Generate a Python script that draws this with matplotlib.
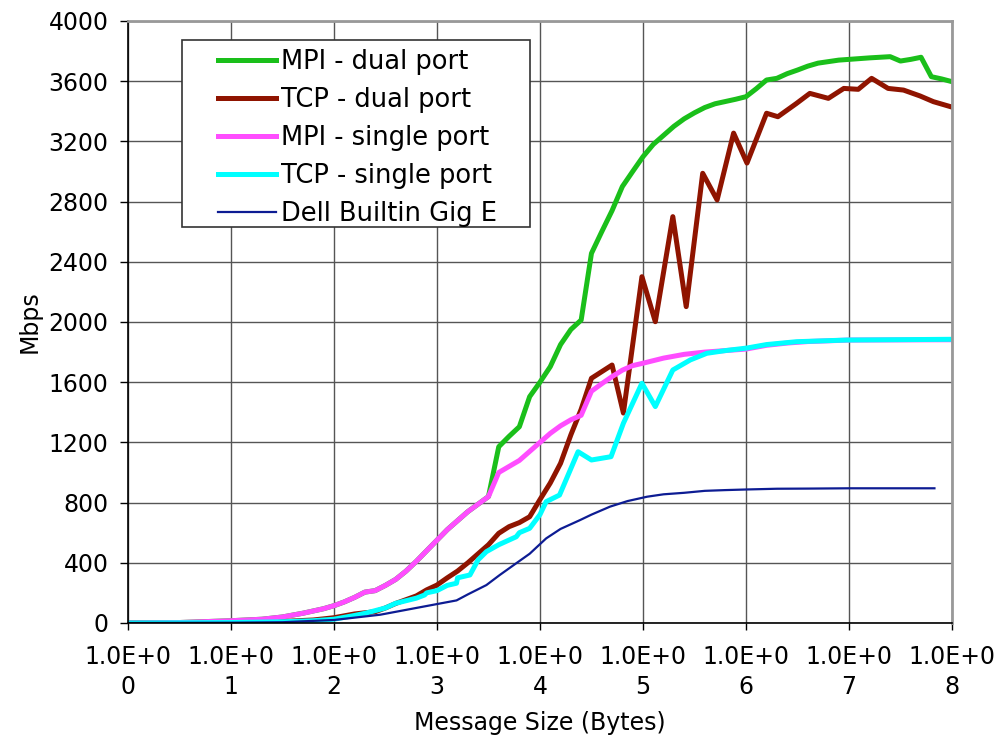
import matplotlib

matplotlib.use("Agg")
import matplotlib.pyplot as plt
from matplotlib.patches import Rectangle

# MPI - dual port
mpi_dual_x = [0, 0.5, 1.0, 1.3, 1.5, 1.7, 1.9, 2.0, 2.1, 2.2, 2.3, 2.4, 2.5, 2.6, 2.7, 2.8,
              2.9, 3.0, 3.1, 3.2, 3.3, 3.4, 3.5, 3.6, 3.7, 3.8, 3.9, 4.0, 4.1, 4.2, 4.3,
              4.4, 4.5, 4.6, 4.7, 4.8, 4.9, 5.0, 5.1, 5.2, 5.3, 5.4, 5.5, 5.6, 5.7, 5.8,
              5.9, 6.0, 6.1, 6.2, 6.3, 6.4, 6.5, 6.6, 6.7, 6.8, 6.9, 7.0, 7.2, 7.4, 7.5,
              7.6, 7.7, 7.8, 7.9, 8.0]
mpi_dual_y = [0, 3, 15, 25, 40, 65, 95, 115, 140, 170, 205, 215, 250, 290, 345, 410,
              480, 550, 620, 680, 740, 790, 840, 1171, 1240, 1304, 1504, 1600, 1703, 1850, 1950,
              2013, 2456, 2600, 2740, 2900, 3000, 3098, 3180, 3240, 3300, 3350, 3390, 3425, 3450, 3465,
              3480, 3497, 3550, 3608, 3619, 3650, 3674, 3700, 3720, 3730, 3740, 3745, 3755, 3763, 3734,
              3745, 3759, 3630, 3615, 3597]

# TCP - dual port
tcp_dual_x = [0, 1.0, 1.5, 1.8, 2.0, 2.2, 2.4, 2.5, 2.6, 2.7, 2.8, 2.9, 3.0, 3.1, 3.2, 3.3,
              3.4, 3.5, 3.6, 3.7, 3.8, 3.9, 4.0, 4.1, 4.2, 4.3, 4.4, 4.5, 4.6, 4.7, 4.81,
              4.99, 5.12, 5.29, 5.42, 5.58, 5.72, 5.88, 6.01, 6.2, 6.31, 6.49, 6.62, 6.8, 6.95,
              7.09, 7.22, 7.38, 7.53, 7.69, 7.82, 8.0]
tcp_dual_y = [0, 5, 10, 20, 35, 60, 75, 100, 130, 155, 180, 220, 252, 300, 345, 400,
              460, 520, 596, 640, 667, 706, 820, 930, 1061, 1250, 1420, 1626, 1670, 1714, 1395,
              2301, 2002, 2700, 2102, 2988, 2811, 3255, 3056, 3387, 3364, 3452, 3519, 3486, 3552,
              3546, 3619, 3552, 3541, 3502, 3464, 3428]

# MPI - single port
mpi_single_x = [0, 0.5, 1.0, 1.3, 1.5, 1.7, 1.9, 2.0, 2.1, 2.2, 2.3, 2.4, 2.5, 2.6, 2.7, 2.8,
                2.9, 3.0, 3.1, 3.2, 3.3, 3.4, 3.5, 3.6, 3.7, 3.8, 3.9, 4.0, 4.1, 4.2, 4.3,
                4.4, 4.5, 4.6, 4.7, 4.8, 4.9, 5.0, 5.2, 5.4, 5.6, 5.8, 6.0, 6.2, 6.4, 6.6,
                7.0, 8.0]
mpi_single_y = [0, 3, 15, 25, 40, 65, 95, 115, 140, 170, 205, 215, 250, 290, 345, 410,
                480, 550, 620, 680, 740, 790, 840, 1000, 1040, 1080, 1140, 1200, 1260, 1310, 1350,
                1380, 1540, 1590, 1637, 1680, 1710, 1726, 1760, 1785, 1800, 1810, 1820, 1845, 1860, 1870,
                1880, 1882]

# TCP - single port
tcp_single_x = [0, 1.0, 1.5, 1.8, 2.0, 2.2, 2.3, 2.5, 2.6, 2.8, 2.88, 2.9, 3.0, 3.1, 3.19,
                3.2, 3.32, 3.4, 3.48, 3.6, 3.77, 3.8, 3.9, 4.0, 4.06, 4.19, 4.37, 4.5, 4.69,
                4.81, 4.99, 5.12, 5.29, 5.46, 5.62, 5.8, 6.01, 6.2, 6.49, 6.98, 8.0]
tcp_single_y = [0, 3, 8, 15, 25, 50, 64, 100, 131, 165, 186, 200, 215, 250, 264,
                300, 319, 420, 474, 520, 573, 600, 629, 720, 806, 850, 1138, 1083, 1105,
                1327, 1593, 1438, 1681, 1748, 1792, 1810, 1827, 1850, 1869, 1880, 1885]

# Dell Builtin Gig E
dell_x = [0, 1.0, 1.5, 2.0, 2.45, 2.8, 3.19, 3.3, 3.48, 3.61, 3.77, 3.9, 4.06, 4.2, 4.39,
          4.5, 4.68, 4.85, 5.04, 5.2, 5.4, 5.6, 5.8, 6.0, 6.3, 6.6, 7.0, 7.5, 7.83]
dell_y = [0, 2, 5, 20, 55, 100, 150, 190, 252, 319, 397, 460, 562, 625, 684,
          720, 773, 810, 839, 855, 865, 878, 883, 887, 892, 893, 895, 895, 895]

x_ticks = list(range(9))
x_tick_labels = [f"1.0E+0\n{i}" for i in x_ticks]
y_ticks = list(range(0, 4001, 400))

FS = 17
LEG_FS = 18.5

fig = plt.figure(figsize=(9.99, 7.42), dpi=100)
ax = fig.add_axes([0.1281, 0.1604, 0.8248, 0.8113])

ax.plot(mpi_dual_x, mpi_dual_y, color="#1abf1a", lw=3.6, label="MPI - dual port")
ax.plot(tcp_dual_x, tcp_dual_y, color="#8f1400", lw=3.6, label="TCP - dual port")
ax.plot(mpi_single_x, mpi_single_y, color="#ff4dff", lw=3.6, label="MPI - single port")
ax.plot(tcp_single_x, tcp_single_y, color="#00ffff", lw=3.6, label="TCP - single port")
ax.plot(dell_x, dell_y, color="#0d1c93", lw=1.6, label="Dell Builtin Gig E")

ax.set_xlim(0, 8)
ax.set_ylim(0, 4000)
ax.set_xticks(x_ticks, x_tick_labels, fontsize=FS, linespacing=1.3)
ax.set_yticks(y_ticks, [str(v) for v in y_ticks], fontsize=FS)
ax.tick_params(axis="x", length=5, width=1, pad=11)
ax.tick_params(axis="y", length=6, width=1, pad=8)
ax.grid(True, color="#555555", lw=1.0)
ax.set_axisbelow(True)

for side in ("left", "bottom"):
    ax.spines[side].set_color("black")
    ax.spines[side].set_linewidth(1.2)
for side in ("top", "right"):
    ax.spines[side].set_color("#999999")
    ax.spines[side].set_linewidth(2)

ax.set_ylabel("Mbps", fontsize=FS)
ax.set_xlabel("Message Size (Bytes)", fontsize=FS)
ax.yaxis.set_label_coords(-0.105, 0.5)
ax.xaxis.set_label_coords(0.5, -0.146)

# legend box drawn separately so its padding matches the original
ax.add_patch(Rectangle((0.0655, 0.6578), 0.4223, 0.3106, transform=ax.transAxes,
                       facecolor="white", edgecolor="#333333", lw=1.2, zorder=4))
leg = ax.legend(loc="upper left", bbox_to_anchor=(0.1092, 0.954), frameon=False,
                fontsize=LEG_FS, handlelength=2.26, handletextpad=0.2, labelspacing=0.47,
                borderpad=0, borderaxespad=0)
leg.set_zorder(5)

fig.savefig("out.png", dpi=100)
